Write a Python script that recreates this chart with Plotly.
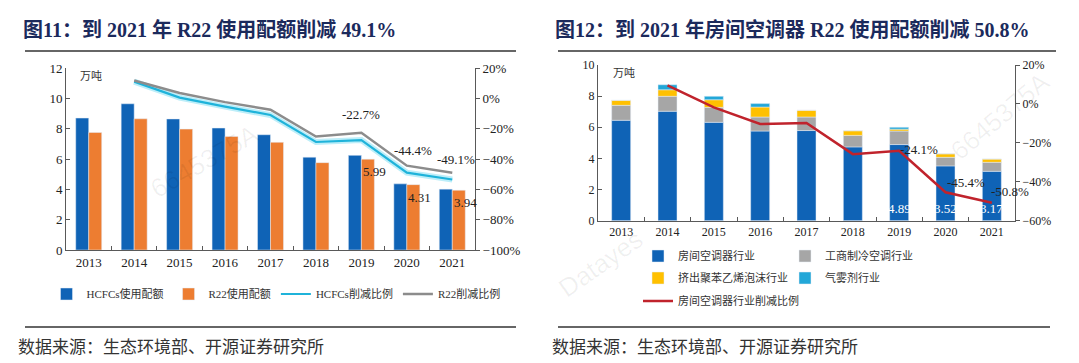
import plotly.graph_objects as go

W, H = 1079, 363

# ---------------- data ----------------
years = ["2013", "2014", "2015", "2016", "2017", "2018", "2019", "2020", "2021"]

# Figure 11
hcfc_quota = [8.70, 9.64, 8.64, 8.04, 7.60, 6.12, 6.24, 4.36, 4.01]
r22_quota = [7.75, 8.65, 7.97, 7.49, 7.10, 5.76, 5.99, 4.31, 3.94]
hcfc_cut = [None, 11.0, 0.5, -5.5, -11.0, -28.8, -27.5, -49.0, -53.5]
r22_cut = [None, 11.8, 3.5, -2.5, -7.5, -25.2, -22.7, -44.4, -49.1]

# Figure 12
room_ac = [6.45, 7.03, 6.32, 5.76, 5.79, 4.74, 4.89, 3.52, 3.17]
ci_ac = [0.96, 0.96, 0.96, 0.90, 0.87, 0.74, 0.87, 0.55, 0.58]
xps_foam = [0.32, 0.42, 0.49, 0.64, 0.43, 0.30, 0.12, 0.23, 0.21]
aerosol = [0.00, 0.32, 0.22, 0.22, 0.00, 0.00, 0.12, 0.00, 0.00]
room_cut = [None, 9.5, -1.8, -10.3, -9.8, -25.8, -24.1, -45.4, -50.8]

# ---------------- helpers ----------------
def px(x):
    return x / W

def py(y):
    return 1 - y / H

SERIF = "Liberation Serif, Noto Sans CJK SC"
CJK = "Noto Sans CJK SC"

C_BLUE = "#0f63b6"
C_ORANGE = "#ed7d31"
C_GRAY = "#a6a6a6"
C_YELLOW = "#ffc000"
C_CYAN = "#22a7d8"
C_RED = "#c0232c"

fig = go.Figure()

# ---------------- Figure 11 ----------------
wl = 0.286
fig.add_trace(go.Bar(x=years, y=hcfc_quota, name="HCFCs使用配额", marker_color=C_BLUE,
                     width=wl, offset=-wl, xaxis="x", yaxis="y", legend="legend"))
fig.add_trace(go.Bar(x=years, y=r22_quota, name="R22使用配额", marker_color=C_ORANGE,
                     width=wl, offset=0, xaxis="x", yaxis="y", legend="legend"))
fig.add_trace(go.Scatter(x=years, y=hcfc_cut, mode="lines", line=dict(color="#bdeef9", width=6),
                         showlegend=False, hoverinfo="skip", xaxis="x", yaxis="y2"))
fig.add_trace(go.Scatter(x=years, y=hcfc_cut, name="HCFCs削减比例", mode="lines",
                         line=dict(color="#1fb3da", width=2.2), xaxis="x", yaxis="y2", legend="legend"))
fig.add_trace(go.Scatter(x=years, y=r22_cut, name="R22削减比例", mode="lines",
                         line=dict(color="#8c8c8c", width=2.5), xaxis="x", yaxis="y2", legend="legend"))

# ---------------- Figure 12 ----------------
wr = 0.41
base_ci = room_ac
base_xps = [a + b for a, b in zip(room_ac, ci_ac)]
base_aer = [a + b + c for a, b, c in zip(room_ac, ci_ac, xps_foam)]
fig.add_trace(go.Bar(x=years, y=room_ac, name="房间空调器行业", marker_color=C_BLUE,
                     width=wr, offset=-wr / 2, xaxis="x2", yaxis="y3", legend="legend2"))
fig.add_trace(go.Bar(x=years, y=ci_ac, base=base_ci, name="工商制冷空调行业", marker_color=C_GRAY,
                     width=wr, offset=-wr / 2, xaxis="x2", yaxis="y3", legend="legend2"))
fig.add_trace(go.Bar(x=years, y=xps_foam, base=base_xps, name="挤出聚苯乙烯泡沫行业", marker_color=C_YELLOW,
                     width=wr, offset=-wr / 2, xaxis="x2", yaxis="y3", legend="legend3"))
fig.add_trace(go.Bar(x=years, y=aerosol, base=base_aer, name="气雾剂行业", marker_color=C_CYAN,
                     width=wr, offset=-wr / 2, xaxis="x2", yaxis="y3", legend="legend3"))
fig.add_trace(go.Scatter(x=years, y=room_cut, name="房间空调器行业削减比例", mode="lines",
                         line=dict(color=C_RED, width=2.5), xaxis="x2", yaxis="y4", legend="legend4"))

# ---------------- axes ----------------
axis_common = dict(showgrid=False, zeroline=False, showline=True, linecolor="#595959", linewidth=1,
                   tickcolor="#595959", ticklen=4)
tf_l = dict(family="Liberation Serif", size=13, color="#222")
tf_r = dict(family="Liberation Serif", size=12, color="#222")

fig.update_layout(
    xaxis=dict(domain=[px(58), px(467)], anchor="y", type="category", range=[-0.5, 8.5],
               ticks="inside", tickson="boundaries", tickfont=tf_l, **axis_common),
    yaxis=dict(domain=[py(242), py(60)], anchor="x", range=[0, 12], dtick=2,
               ticks="inside", tickfont=tf_l, **axis_common),
    yaxis2=dict(overlaying="y", anchor="x", side="right", range=[-100, 20], dtick=20,
                ticksuffix="%", ticks="outside", tickfont=tf_l, **axis_common),
    xaxis2=dict(domain=[px(590), px(1007)], anchor="y3", type="category", range=[-0.5, 8.5],
                ticks="inside", tickson="boundaries", tickfont=tf_r, **axis_common),
    yaxis3=dict(domain=[py(212.7), py(57)], anchor="x2", range=[0, 10], dtick=2,
                ticks="inside", tickfont=tf_r, **axis_common),
    yaxis4=dict(overlaying="y3", anchor="x2", side="right", range=[-60, 20], dtick=20,
                ticksuffix="%", ticks="outside", tickfont=tf_r, **axis_common),
)

# ---------------- legends ----------------
leg_font = dict(family=SERIF, size=11, color="#333")
fig.update_layout(
    barmode="overlay",
    legend=dict(orientation="h", x=px(268), xanchor="center", y=py(286), yanchor="middle",
                font=leg_font, bgcolor="rgba(0,0,0,0)", itemwidth=30, traceorder="normal"),
    legend2=dict(orientation="h", x=px(630), xanchor="left", y=py(248), yanchor="middle",
                 font=leg_font, bgcolor="rgba(0,0,0,0)", itemwidth=30, entrywidth=102,
                 entrywidthmode="pixels", traceorder="normal"),
    legend3=dict(orientation="h", x=px(630), xanchor="left", y=py(270), yanchor="middle",
                 font=leg_font, bgcolor="rgba(0,0,0,0)", itemwidth=30, entrywidth=102,
                 entrywidthmode="pixels", traceorder="normal"),
    legend4=dict(orientation="h", x=px(630), xanchor="left", y=py(293), yanchor="middle",
                 font=leg_font, bgcolor="rgba(0,0,0,0)", itemwidth=30, traceorder="normal"),
)

# ---------------- annotations ----------------
ann = []
title_font = dict(family=SERIF, size=20, color="#1b2a5c")
ann.append(dict(text="<b>图11：到 2021 年 R22 使用配额削减 49.1%</b>", x=px(13), y=py(22),
                xref="paper", yref="paper", xanchor="left", yanchor="middle", showarrow=False, font=title_font))
ann.append(dict(text="<b>图12：到 2021 年房间空调器 R22 使用配额削减 50.8%</b>", x=px(545), y=py(22),
                xref="paper", yref="paper", xanchor="left", yanchor="middle", showarrow=False, font=title_font))
src_font = dict(family=CJK, size=17, color="#333")
ann.append(dict(text="数据来源：生态环境部、开源证券研究所", x=px(8), y=py(337), xref="paper", yref="paper",
                xanchor="left", yanchor="middle", showarrow=False, font=src_font))
ann.append(dict(text="数据来源：生态环境部、开源证券研究所", x=px(542), y=py(337), xref="paper", yref="paper",
                xanchor="left", yanchor="middle", showarrow=False, font=src_font))
unit_font = dict(family=CJK, size=11, color="#333")
ann.append(dict(text="万吨", x=px(70), y=py(67), xref="paper", yref="paper", xanchor="left",
                yanchor="middle", showarrow=False, font=unit_font))
ann.append(dict(text="万吨", x=px(603), y=py(64), xref="paper", yref="paper", xanchor="left",
                yanchor="middle", showarrow=False, font=unit_font))

lab_font = dict(family="Liberation Serif", size=13, color="#222")
# R22 quota value labels (last three years)
for i in (6, 7, 8):
    ann.append(dict(text=f"{r22_quota[i]:.2f}", x=i, y=r22_quota[i], xref="x", yref="y",
                    xanchor="center", yanchor="top", xshift=13, yshift=-3, showarrow=False, font=lab_font))
# R22 reduction labels
for i, xs, ys in ((6, 0, 18), (7, 6, 15), (8, 4, 13)):
    ann.append(dict(text=f"{r22_cut[i]:.1f}%", x=i, y=r22_cut[i], xref="x", yref="y2",
                    xanchor="center", yanchor="middle", xshift=xs, yshift=ys, showarrow=False, font=lab_font))
# Room AC white labels
for i in (6, 7, 8):
    ann.append(dict(text=f"{room_ac[i]:.2f}", x=i, y=0, xref="x2", yref="y3",
                    xanchor="center", yanchor="middle", yshift=12, showarrow=False,
                    font=dict(family="Liberation Serif", size=13, color="white")))
# Room AC reduction labels
for i, xs, ys in ((6, -1, 1), (7, -1, 10), (8, -3, 11)):
    ann.append(dict(text=f"{room_cut[i]:.1f}%", x=i, y=room_cut[i], xref="x2", yref="y4",
                    xanchor="left", yanchor="middle", xshift=xs, yshift=ys, showarrow=False,
                    font=dict(family="Liberation Serif", size=13, color="#222")))

# faint watermarks
wm_font = dict(family="Liberation Sans", size=26, color="rgba(0,0,0,0.06)")
ann.append(dict(text="6645375A", x=px(135), y=py(108), xref="paper", yref="paper", textangle=-30,
                showarrow=False, font=wm_font))
ann.append(dict(text="6645375A", x=px(1050), y=py(55), xref="paper", yref="paper", textangle=-40,
                showarrow=False, font=wm_font))
ann.append(dict(text="Datayes", x=px(592), y=py(298), xref="paper", yref="paper", textangle=-35,
                showarrow=False, font=wm_font))

# ---------------- rules ----------------
shapes = []
for x0, x1, y in ((17, 508, 43), (550, 1048, 43), (17, 508, 319), (550, 1042, 319)):
    shapes.append(dict(type="line", xref="paper", yref="paper", x0=px(x0), x1=px(x1), y0=py(y), y1=py(y),
                       line=dict(color="#333", width=1.3)))

fig.update_layout(
    width=W, height=H,
    margin=dict(l=0, r=0, t=0, b=0, autoexpand=False),
    paper_bgcolor="white", plot_bgcolor="white",
    annotations=ann, shapes=shapes, showlegend=True,
)

fig.write_html("out.html")
